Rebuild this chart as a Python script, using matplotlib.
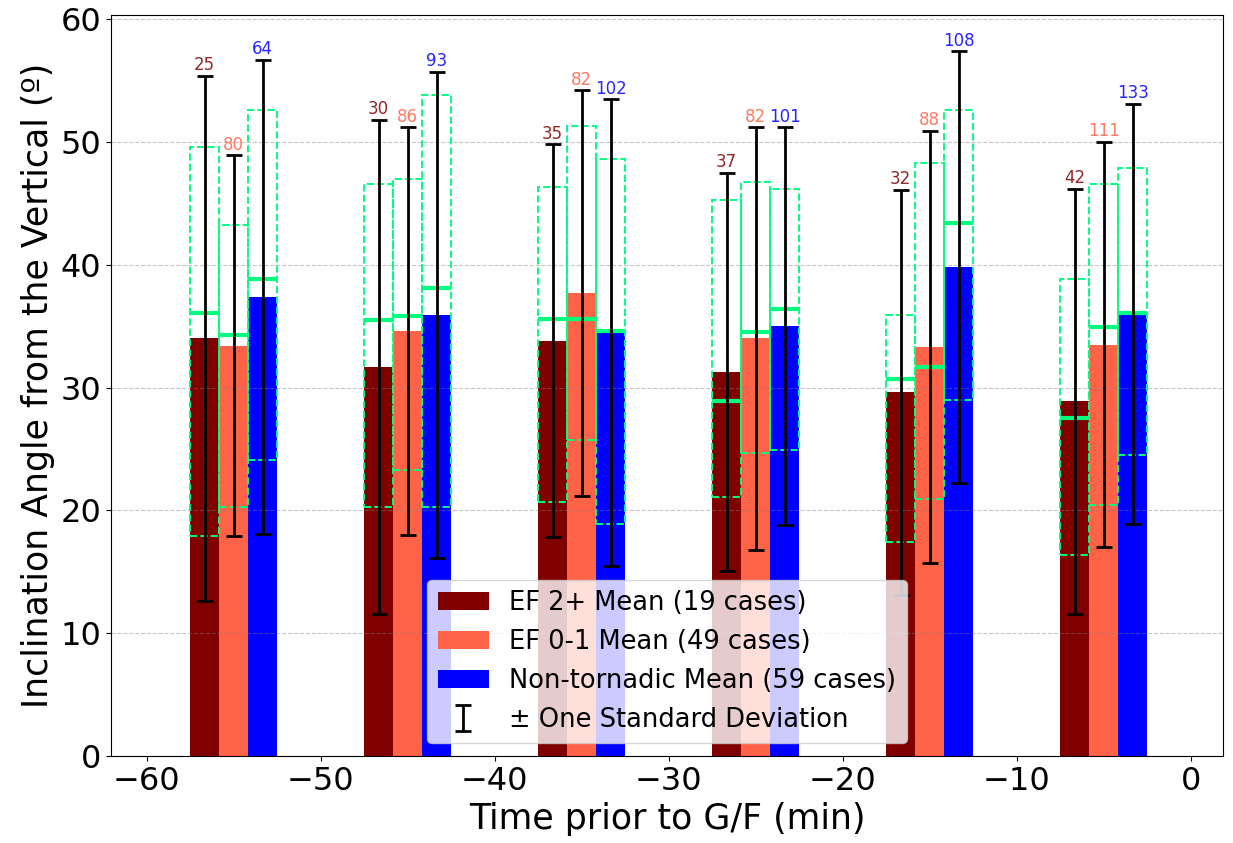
import matplotlib
matplotlib.use("Agg")
import matplotlib.pyplot as plt
from matplotlib.patches import Rectangle
import numpy as np

# ---- data ----
times = [-55, -45, -35, -25, -15, -5]
series_names = ["EF 2+ Mean (19 cases)", "EF 0-1 Mean (49 cases)", "Non-tornadic Mean (59 cases)"]
colors = ["maroon", "tomato", "blue"]

mean_ef2 = [34.0, 31.7, 33.8, 31.3, 29.6, 28.9]
mean_ef01 = [33.4, 34.6, 37.7, 34.0, 33.3, 33.5]
mean_nt = [37.4, 35.9, 34.5, 35.0, 39.8, 36.0]

sd_ef2 = [21.4, 20.1, 16.0, 16.2, 16.5, 17.3]
sd_ef01 = [15.5, 16.6, 16.5, 17.2, 17.6, 16.5]
sd_nt = [19.3, 19.8, 19.0, 16.2, 17.6, 17.1]

med_ef2 = [36.1, 35.5, 35.6, 28.9, 30.7, 27.5]
med_ef01 = [34.3, 35.8, 35.6, 34.5, 31.7, 34.9]
med_nt = [38.8, 38.1, 34.6, 36.4, 43.4, 36.1]

q1_ef2 = [17.9, 20.3, 20.7, 21.1, 17.4, 16.4]
q1_ef01 = [20.3, 23.3, 25.7, 24.7, 20.9, 20.4]
q1_nt = [24.1, 20.3, 18.9, 24.9, 29.0, 24.5]

q3_ef2 = [49.6, 46.6, 46.3, 45.3, 35.9, 38.8]
q3_ef01 = [43.2, 47.0, 51.3, 46.7, 48.3, 46.6]
q3_nt = [52.6, 53.8, 48.6, 46.2, 52.6, 47.9]

n_ef2 = [25, 30, 35, 37, 32, 42]
n_ef01 = [80, 86, 82, 82, 88, 111]
n_nt = [64, 93, 102, 101, 108, 133]

means = [mean_ef2, mean_ef01, mean_nt]
sds = [sd_ef2, sd_ef01, sd_nt]
meds = [med_ef2, med_ef01, med_nt]
q1s = [q1_ef2, q1_ef01, q1_nt]
q3s = [q3_ef2, q3_ef01, q3_nt]
counts = [n_ef2, n_ef01, n_nt]

# ---- figure ----
fig = plt.figure(figsize=(12.33, 8.43), dpi=100)
ax = fig.add_axes([111/1233, 1-756/843, (1223-111)/1233, (756-15)/843])

width = 5/3
offsets = [-width, 0, width]
box_color = "springgreen"
t = np.array(times, dtype=float)

for i in range(3):
    x = t + offsets[i]
    ax.bar(x, means[i], width=width, color=colors[i], label=series_names[i], zorder=1)
    # box outlines (IQR) and medians
    for j in range(len(times)):
        ax.add_patch(Rectangle((x[j] - width/2, q1s[i][j]), width, q3s[i][j] - q1s[i][j],
                               fill=False, edgecolor=box_color, linestyle="--", linewidth=1.4, zorder=3))
        ax.plot([x[j] - width/2, x[j] + width/2], [meds[i][j], meds[i][j]],
                color=box_color, linewidth=3, solid_capstyle="butt", zorder=4)
    lab = "± One Standard Deviation" if i == 0 else None
    ax.errorbar(x, means[i], yerr=sds[i], fmt="none", ecolor="black", elinewidth=2,
                capsize=6, capthick=2, zorder=5, label=lab)
    for j in range(len(times)):
        ax.annotate(str(counts[i][j]), (x[j], means[i][j] + sds[i][j]),
                    xytext=(0, 1), textcoords="offset points", ha="center", va="bottom",
                    color=colors[i], fontsize=12, alpha=0.85)

ax.set_xlim(-62.05, 1.86)
ax.set_ylim(0, 60.33)
ax.set_xticks([-60, -50, -40, -30, -20, -10, 0])
ax.set_yticks([0, 10, 20, 30, 40, 50, 60])
ax.tick_params(axis="both", labelsize=23)
ax.grid(axis="y", linestyle="--", color="gray", alpha=0.45)
ax.set_xlabel("Time prior to G/F (min)", fontsize=25)
ax.set_ylabel("Inclination Angle from the Vertical (º)", fontsize=25)

h, l = ax.get_legend_handles_labels()
order = [l.index(n) for n in series_names] + [l.index("± One Standard Deviation")]
ax.legend([h[k] for k in order], [l[k] for k in order], loc="lower center",
          fontsize=18.5, framealpha=0.8)

fig.savefig("out.png", dpi=100)
